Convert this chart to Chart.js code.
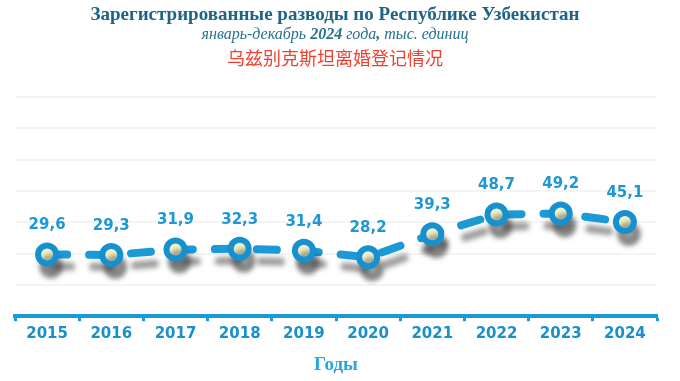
<!DOCTYPE html>
<html>
<head>
<meta charset="utf-8">
<script src="https://cdn.jsdelivr.net/npm/chart.js@4/dist/chart.umd.min.js"></script>
<style>
  html, body { margin: 0; padding: 0; background: #ffffff; }
  #wrap { position: relative; width: 680px; height: 381px; overflow: hidden; }
  canvas { position: absolute; left: 0; top: 0; }
  .t { position: absolute; left: 0; width: 670px; text-align: center; white-space: nowrap; }
  #t1 { top: 4px; font: bold 19px "Liberation Serif", serif; line-height: 20px; color: #1f6486; }
  #t2 { top: 25px; font: italic 16px "Liberation Serif", serif; line-height: 17px; color: #27708f; }
  #t2 b { font-weight: bold; }
  #t3 { top: 46px; font: 18px "Noto Sans CJK SC", sans-serif; line-height: 22px; color: #ef4132; }
</style>
</head>
<body>
<div id="wrap">
  <canvas id="c" width="680" height="381"></canvas>
  <div class="t" id="t1">Зарегистрированные разводы по Республике Узбекистан</div>
  <div class="t" id="t2">январь-декабрь <b>2024</b> года<b>,</b> тыс. единиц</div>
  <div class="t" id="t3">乌兹别克斯坦离婚登记情况</div>
</div>
<script>
const years = ['2015', '2016', '2017', '2018', '2019', '2020', '2021', '2022', '2023', '2024'];
const divorces = [29.6, 29.3, 31.9, 32.3, 31.4, 28.2, 39.3, 48.7, 49.2, 45.1];
const valueLabels = ['29,6', '29,3', '31,9', '32,3', '31,4', '28,2', '39,3', '48,7', '49,2', '45,1'];
const axisTitle = 'Годы';

const BLUE = '#1b9ad6';

const shadowPlugin = {
  id: 'shadow',
  beforeDatasetsDraw(chart) {
    const ctx = chart.ctx;
    ctx.save();
    ctx.shadowColor = 'rgba(60,60,60,0.5)';
    ctx.shadowBlur = 5;
    ctx.shadowOffsetX = 4;
    ctx.shadowOffsetY = 12;
  },
  afterDatasetsDraw(chart) {
    chart.ctx.restore();
  }
};

const labelPlugin = {
  id: 'valueLabels',
  afterDraw(chart) {
    const ctx = chart.ctx;
    const meta = chart.getDatasetMeta(0);
    ctx.save();
    ctx.font = 'bold 15px "DejaVu Sans", sans-serif';
    ctx.fillStyle = '#1e97d4';
    ctx.textAlign = 'center';
    ctx.textBaseline = 'middle';
    meta.data.forEach((pt, i) => {
      ctx.fillText(valueLabels[i], pt.x, pt.y - 29);
    });
    ctx.restore();
  }
};

new Chart(document.getElementById('c'), {
  type: 'line',
  data: {
    labels: years,
    datasets: [{
      data: divorces,
      borderColor: BLUE,
      borderWidth: 8,
      borderDash: [20, 22],
      borderCapStyle: 'round',
      tension: 0,
      fill: false,
      pointRadius: 9,
      pointBorderWidth: 6,
      pointBorderColor: '#1690cf',
      pointBackgroundColor: '#f3f4c8',
      pointHoverRadius: 9
    }]
  },
  options: {
    responsive: false,
    animation: false,
    events: [],
    layout: { padding: { top: 97, left: 12, right: 23, bottom: 5 } },
    plugins: {
      legend: { display: false },
      tooltip: { enabled: false },
      title: { display: false }
    },
    scales: {
      x: {
        offset: true,
        grid: {
          display: true,
          offset: true,
          drawOnChartArea: false,
          drawTicks: true,
          tickLength: 5,
          tickWidth: 3,
          tickColor: BLUE
        },
        border: { display: true, color: BLUE, width: 4 },
        ticks: {
          color: '#1a8fce',
          padding: 4,
          font: { family: '"DejaVu Sans", sans-serif', size: 15, weight: 'bold' }
        },
        title: {
          display: true,
          text: axisTitle,
          color: '#2aa7df',
          padding: { top: 6, bottom: 0 },
          font: { family: '"Liberation Serif", serif', size: 19, weight: 'bold' }
        }
      },
      y: {
        min: 0,
        max: 105,
        ticks: { display: false, stepSize: 15 },
        grid: { color: 'rgba(0,0,0,0.045)', lineWidth: 2, drawTicks: false },
        border: { display: false }
      }
    }
  },
  plugins: [shadowPlugin, labelPlugin]
});
</script>
</body>
</html>
